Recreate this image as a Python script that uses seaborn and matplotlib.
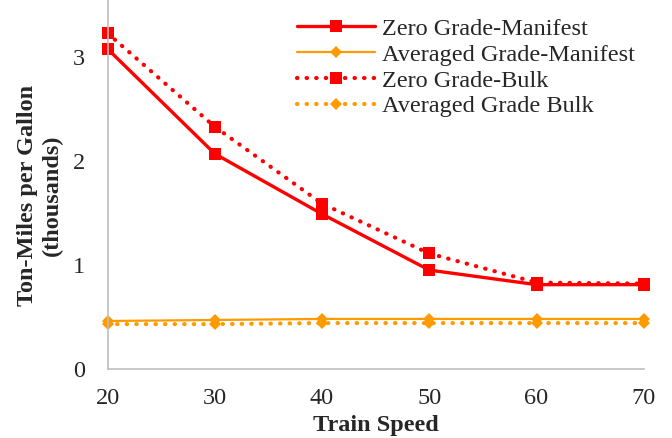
import numpy as np
import pandas as pd
import matplotlib
matplotlib.use('Agg')
import matplotlib.pyplot as plt
import seaborn as sns

speeds = [20, 30, 40, 50, 60, 70]
zero_manifest = [3.08, 2.07, 1.49, 0.95, 0.81, 0.81]
avg_manifest = [0.46, 0.47, 0.48, 0.48, 0.48, 0.48]
zero_bulk = [3.23, 2.33, 1.59, 1.11, 0.83, 0.82]
avg_bulk = [0.43, 0.43, 0.44, 0.44, 0.44, 0.44]

sns.set_style('white')
plt.rcParams['font.family'] = ['Liberation Serif', 'DejaVu Serif']

red = '#FF0000'
orange = '#FF9B00'
fs = 17.5

fig = plt.figure(figsize=(6.72, 4.38), dpi=100)
ax = fig.add_axes([0.16, 0.158, 0.798, 0.842])

dotted = (0, (0.1, 2.2))
sns.lineplot(x=speeds, y=zero_manifest, ax=ax, color=red, lw=2.4, marker='s',
             markersize=8, markeredgewidth=0, label='Zero Grade-Manifest', clip_on=False)
sns.lineplot(x=speeds, y=avg_manifest, ax=ax, color=orange, lw=1.6, marker='D',
             markersize=6, markeredgewidth=0, label='Averaged Grade-Manifest', clip_on=False)
sns.lineplot(x=speeds, y=zero_bulk, ax=ax, color=red, lw=3, ls=dotted,
             dash_capstyle='round', marker='s', markersize=8, markeredgewidth=0,
             label='Zero Grade-Bulk', clip_on=False)
sns.lineplot(x=speeds, y=avg_bulk, ax=ax, color=orange, lw=3, ls=dotted,
             dash_capstyle='round', marker='D', markersize=6, markeredgewidth=0,
             label='Averaged Grade Bulk', clip_on=False)

ax.set_xlim(20, 70)
ax.set_ylim(0, 3.55)
ax.set_xticks([20, 30, 40, 50, 60, 70])
ax.set_yticks([0, 1, 2, 3])
ax.tick_params(axis='x', labelsize=fs, length=0, pad=14)
ax.tick_params(axis='y', labelsize=fs, length=0, pad=16)
ax.set_xlabel('Train Speed', fontsize=fs, fontweight='bold', labelpad=4)
ax.set_ylabel('Ton-Miles per Gallon\n(thousands)', fontsize=fs, fontweight='bold')
ax.yaxis.set_label_coords(-0.084, 0.47)

for s in ['top', 'right']:
    ax.spines[s].set_visible(False)
for s in ['left', 'bottom']:
    ax.spines[s].set_color('#BFBFBF')
    ax.spines[s].set_linewidth(1.2)

leg = ax.legend(loc='upper right', bbox_to_anchor=(1.015, 0.998), frameon=False,
                fontsize=fs, handlelength=3.2, labelspacing=0.16,
                handletextpad=0.3, borderaxespad=0.3)

fig.savefig('out.png', dpi=100)
